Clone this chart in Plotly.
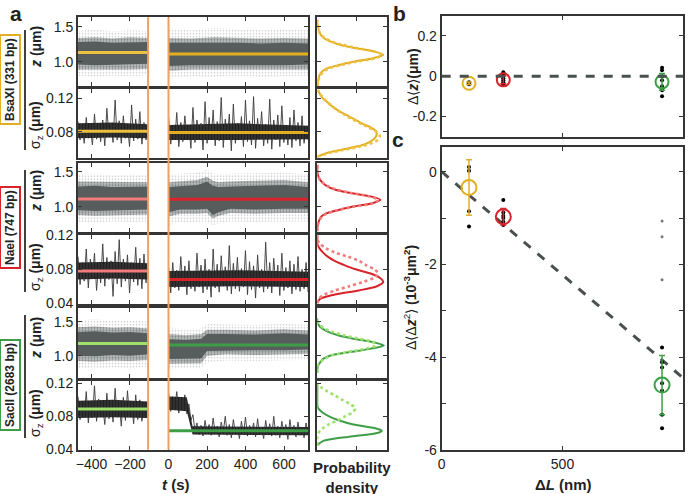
import numpy as np
import plotly.graph_objects as go

FONT = "Liberation Sans, Arial, sans-serif"
W, H = 694, 494

# ---------------- panel a : time traces ----------------
T_RANGE = [-470, 726]
T_TICKS = [-400, -200, 0, 200, 400, 600]
T_BEFORE = [-470, -106]
T_AFTER = [1, 725]
GAP_LINES = [-106, 0]

ENZ_LABELS = ["BsaXI (331 bp)", "NaeI (747 bp)", "SacII (2683 bp)"]
COL_AFTER = ["#E3AF22", "#D8232A", "#3E9E48"]
COL_BEFORE = ["#EDC040", "#F27B7B", "#9DE06A"]

# z clouds (um): envelopes [outer, mid, core]
Z1B_T = [-470, -380, -290, -200, -106]
Z1B_LO = [[0.80, 0.78, 0.80, 0.79, 0.81], [0.89, 0.88, 0.89, 0.89, 0.90], [0.96, 0.95, 0.96, 0.96, 0.97]]
Z1B_HI = [[1.44, 1.46, 1.43, 1.45, 1.44], [1.34, 1.35, 1.33, 1.35, 1.34], [1.28, 1.29, 1.27, 1.28, 1.28]]
Z1A_T = [1, 120, 240, 360, 480, 600, 725]
Z1A_LO = [[0.76, 0.79, 0.78, 0.80, 0.78, 0.79, 0.80], [0.87, 0.89, 0.88, 0.89, 0.88, 0.89, 0.89], [0.94, 0.95, 0.95, 0.96, 0.95, 0.95, 0.96]]
Z1A_HI = [[1.47, 1.45, 1.48, 1.46, 1.45, 1.47, 1.45], [1.34, 1.33, 1.35, 1.34, 1.33, 1.34, 1.33], [1.27, 1.27, 1.28, 1.27, 1.26, 1.27, 1.26]]

Z3B_T = [-470, -380, -290, -200, -106]
Z3B_LO = [[0.78, 0.77, 0.79, 0.78, 0.79], [0.88, 0.87, 0.88, 0.88, 0.89], [0.95, 0.94, 0.95, 0.95, 0.96]]
Z3B_HI = [[1.46, 1.47, 1.45, 1.46, 1.45], [1.36, 1.36, 1.35, 1.36, 1.35], [1.29, 1.30, 1.28, 1.29, 1.29]]
Z3A_T = [1, 60, 150, 200, 230, 260, 320, 450, 600, 725]
Z3A_LO = [[0.74, 0.78, 0.78, 0.79, 0.73, 0.76, 0.79, 0.78, 0.79, 0.79],
          [0.86, 0.90, 0.90, 0.91, 0.83, 0.87, 0.91, 0.90, 0.91, 0.91],
          [0.92, 0.96, 0.96, 0.97, 0.88, 0.92, 0.97, 0.96, 0.97, 0.97]]
Z3A_HI = [[1.46, 1.47, 1.49, 1.53, 1.48, 1.46, 1.47, 1.48, 1.49, 1.46],
          [1.35, 1.36, 1.38, 1.43, 1.37, 1.35, 1.36, 1.37, 1.38, 1.35],
          [1.28, 1.29, 1.31, 1.36, 1.30, 1.28, 1.29, 1.30, 1.31, 1.28]]

Z5B_T = [-470, -380, -290, -200, -106]
Z5B_LO = [[0.82, 0.80, 0.83, 0.81, 0.84], [0.92, 0.91, 0.93, 0.92, 0.94], [1.00, 0.99, 1.01, 1.00, 1.02]]
Z5B_HI = [[1.52, 1.54, 1.51, 1.53, 1.50], [1.42, 1.43, 1.41, 1.42, 1.40], [1.35, 1.36, 1.34, 1.35, 1.33]]
Z5A_T = [1, 90, 170, 200, 300, 450, 600, 725]
Z5A_LO = [[0.80, 0.82, 0.82, 0.90, 0.93, 0.92, 0.93, 0.94],
          [0.88, 0.89, 0.89, 1.00, 1.02, 1.01, 1.02, 1.03],
          [0.95, 0.96, 0.96, 1.07, 1.08, 1.08, 1.08, 1.09]]
Z5A_HI = [[1.42, 1.38, 1.40, 1.47, 1.46, 1.45, 1.47, 1.45],
          [1.32, 1.30, 1.32, 1.38, 1.38, 1.37, 1.39, 1.37],
          [1.24, 1.23, 1.25, 1.32, 1.32, 1.31, 1.33, 1.31]]

# sigma_z traces (nm): spikes and dense core envelope
S2B = [92, 70, 88, 66, 97, 72, 85, 64, 101, 71, 90, 68, 94, 63, 108, 74, 89, 67, 118, 70, 93, 66, 99, 72, 87, 62,
       112, 69, 95, 71, 104, 65, 91, 70, 86]
S2A = [96, 65, 88, 70, 103, 62, 91, 68, 99, 73, 86, 60, 109, 67, 94, 71, 90, 58, 116, 66, 97, 70, 106, 63, 92, 69,
       121, 61, 95, 72, 101, 57, 113, 66, 90, 70, 98, 62, 118, 68, 93, 64, 122, 60, 96, 71, 104, 63, 89, 66, 119, 59,
       94, 70, 100, 62, 111, 67, 88, 64, 97, 61, 106, 69, 91, 63, 99, 66, 87, 70]
S4B = [95, 62, 88, 66, 104, 58, 92, 70, 99, 55, 86, 64, 110, 60, 94, 68, 90, 48, 101, 63, 115, 59, 92, 66, 97, 52,
       88, 65, 106, 61, 93, 57, 98, 64, 90]
S4A = [82, 52, 88, 58, 79, 55, 95, 60, 84, 50, 90, 57, 77, 54, 99, 59, 85, 52, 92, 56, 80, 47, 104, 58, 86, 53, 96,
       60, 83, 55, 108, 51, 87, 57, 94, 54, 81, 59, 102, 50, 89, 56, 84, 46, 97, 58, 80, 53, 112, 57, 88, 52, 93, 60,
       85, 49, 99, 55, 82, 58, 90, 51, 86, 56, 95, 54, 80, 57, 88, 53]
S6B = [104, 76, 98, 80, 110, 72, 95, 78, 117, 74, 101, 82, 92, 70, 108, 77, 99, 73, 114, 79, 96, 68, 103, 75, 111,
       80, 94, 71, 106, 76, 100, 74, 97, 78, 93]
S6A = [108, 86, 104, 90, 110, 84, 101, 88, 106, 83, 95, 75, 82, 63, 72, 58, 69, 56, 75, 60, 70, 57, 78, 59, 68, 55,
       73, 61, 80, 57, 70, 54, 76, 60, 67, 53, 74, 58, 79, 56, 69, 60, 72, 55, 77, 58, 66, 53, 75, 59, 71, 56, 80, 57,
       68, 54, 74, 60, 70, 52, 76, 58, 69, 55, 73, 57, 67, 54, 72, 58]
SC2B_T, SC2B_LO, SC2B_HI = [-470, -290, -106], [72, 73, 72], [90, 91, 89]
SC2A_T, SC2A_LO, SC2A_HI = [1, 360, 725], [70, 70, 71], [88, 90, 87]
SC4B_T, SC4B_LO, SC4B_HI = [-470, -290, -106], [68, 69, 68], [88, 89, 87]
SC4A_T, SC4A_LO, SC4A_HI = [1, 360, 725], [59, 60, 59], [78, 79, 77]
SC6B_T, SC6B_LO, SC6B_HI = [-470, -290, -106], [78, 79, 78], [99, 100, 98]
SC6A_T, SC6A_LO, SC6A_HI = [1, 95, 125, 725], [88, 86, 58, 57], [104, 103, 68, 67]

Z_MEAN_B = [1.13, 1.11, 1.18]
Z_MEAN_A = [1.11, 1.108, 1.157]
S_MEAN_B = [0.0805, 0.078, 0.089]
S_MEAN_A = [0.079, 0.0678, 0.0624]

# ---------------- probability density panels ----------------
ZG1 = [0.65, 0.7, 0.75, 0.8, 0.85, 0.9, 0.95, 1.0, 1.05, 1.1, 1.15, 1.2, 1.25, 1.3, 1.35, 1.4, 1.45, 1.5, 1.55, 1.6]
P1_A = [0, 0.005, 0.015, 0.03, 0.06, 0.13, 0.3, 0.52, 0.8, 0.95, 0.8, 0.52, 0.3, 0.16, 0.08, 0.04, 0.02, 0.01, 0, 0]
P1_B = [0, 0.01, 0.02, 0.04, 0.08, 0.16, 0.33, 0.56, 0.84, 0.93, 0.8, 0.55, 0.33, 0.18, 0.09, 0.04, 0.02, 0.01, 0, 0]
P3_A = [0, 0, 0.01, 0.025, 0.05, 0.12, 0.29, 0.5, 0.79, 0.91, 0.76, 0.46, 0.24, 0.13, 0.07, 0.03, 0.01, 0, 0, 0]
P3_B = [0, 0, 0.01, 0.03, 0.06, 0.13, 0.3, 0.52, 0.8, 0.88, 0.74, 0.47, 0.26, 0.14, 0.07, 0.03, 0.01, 0, 0, 0]
ZG5 = [0.75, 0.8, 0.85, 0.9, 0.95, 1.0, 1.05, 1.1, 1.15, 1.2, 1.25, 1.3, 1.35, 1.4, 1.45, 1.5, 1.55]
P5_A = [0, 0, 0.01, 0.04, 0.08, 0.18, 0.45, 0.76, 0.96, 0.8, 0.52, 0.3, 0.16, 0.07, 0.02, 0, 0]
P5_B = [0, 0, 0.01, 0.04, 0.1, 0.2, 0.42, 0.68, 0.84, 0.8, 0.6, 0.38, 0.22, 0.1, 0.04, 0.01, 0]

SG2 = [0.05, 0.055, 0.06, 0.065, 0.07, 0.075, 0.08, 0.085, 0.09, 0.095, 0.1, 0.105, 0.11, 0.115, 0.12, 0.125, 0.13]
P2_A = [0, 0.16, 0.45, 0.69, 0.8, 0.85, 0.85, 0.77, 0.64, 0.53, 0.42, 0.31, 0.22, 0.15, 0.08, 0.04, 0.01]
P2_B = [0, 0.2, 0.5, 0.75, 0.87, 0.9, 0.85, 0.74, 0.62, 0.5, 0.4, 0.3, 0.22, 0.15, 0.09, 0.04, 0.01]
SG4 = [0.04, 0.045, 0.05, 0.055, 0.06, 0.065, 0.07, 0.075, 0.08, 0.085, 0.09, 0.095, 0.1, 0.105, 0.11, 0.115, 0.12]
P4_A = [0, 0.04, 0.24, 0.6, 0.86, 0.95, 0.9, 0.77, 0.55, 0.39, 0.25, 0.15, 0.08, 0.03, 0, 0, 0]
P4_B = [0, 0.02, 0.1, 0.26, 0.46, 0.66, 0.82, 0.88, 0.82, 0.7, 0.6, 0.44, 0.25, 0.12, 0.04, 0, 0]
SG6 = [0.045, 0.05, 0.0525, 0.055, 0.0575, 0.06, 0.0625, 0.065, 0.07, 0.075, 0.08, 0.085, 0.09, 0.095, 0.1, 0.105,
       0.11, 0.115, 0.12]
P6_A = [0, 0.08, 0.21, 0.44, 0.7, 0.88, 0.93, 0.86, 0.52, 0.32, 0.17, 0.07, 0.01, 0, 0, 0, 0, 0, 0]
P6_B = [0, 0, 0, 0, 0.01, 0.02, 0.04, 0.07, 0.16, 0.29, 0.4, 0.51, 0.55, 0.47, 0.36, 0.26, 0.15, 0.06, 0]

# ---------------- panels b, c ----------------
DL = [113, 255, 912]
B_MEAN = [-0.035, -0.018, -0.028]
B_ERR = [0.006, 0.02, 0.042]
B_DOTS = [[-0.035, -0.03, -0.04],
          [0.02, 0.01, 0.0, -0.01, -0.02, -0.03, -0.04],
          [0.042, 0.03, 0.0, -0.02, -0.05, -0.07, -0.1]]
C_MEAN = [-0.34, -0.97, -4.6]
C_ERR = [0.6, 0.18, 0.64]
C_DOTS = [[0.1, 0.02, -0.85, -1.18],
          [-0.61, -0.88, -0.95, -1.0, -1.08, -1.15],
          [-3.79, -4.11, -4.22, -4.56, -4.72, -5.24, -5.53]]
C_GRAY_DOTS = [-1.06, -1.4, -2.33]
FIT_SLOPE = -4.45e-3
DL_RANGE = [0, 1000]

# ======================================================================
ROWS_PX = [(17.3, 86.3), (89.3, 158.3), (162.7, 231.7), (235, 304), (308.3, 377.7), (380.7, 449.7)]
Y_RANGES = [[0.649, 1.634], [0.048, 0.1308], [0.643, 1.629], [0.039, 0.1205], [0.676, 1.697], [0.0395, 0.1232]]


def px_x(a, b):
    return [a / W, b / W]


def px_y(top, bot):
    return [1 - bot / H, 1 - top / H]


AX = dict(showline=True, linecolor="#353535", linewidth=2, mirror="ticks", ticks="inside", ticklen=4,
          tickwidth=1, tickcolor="#353535", showgrid=False, zeroline=False, automargin=False,
          tickfont=dict(family=FONT, size=14, color="#222"))

fig = go.Figure()
layout = dict(width=W, height=H, margin=dict(l=0, r=0, t=0, b=0, autoexpand=False), paper_bgcolor="white",
              plot_bgcolor="white", showlegend=False, font=dict(family=FONT, size=14, color="#222"))

for i in range(6):
    top, bot = ROWS_PX[i]
    is_z = i % 2 == 0
    if is_z:
        tv, tt = [1.0, 1.5], ["1.0", "1.5"]
    else:
        tv, tt = [0.04, 0.08, 0.12], ["0.04", "0.08", "0.12"]
    layout[f"xaxis{i+1}"] = dict(domain=px_x(78, 308.3), anchor=f"y{i+1}", range=T_RANGE, tickvals=T_TICKS,
                                 showticklabels=(i == 5), **AX)
    layout[f"yaxis{i+1}"] = dict(domain=px_y(top, bot), anchor=f"x{i+1}", range=Y_RANGES[i], tickvals=tv,
                                 ticktext=tt, **AX)
    layout[f"xaxis{i+7}"] = dict(domain=px_x(317.3, 386.7), anchor=f"y{i+7}", range=[0, 1.0], tickvals=[0.57],
                                 showticklabels=False, **AX)
    layout[f"yaxis{i+7}"] = dict(domain=px_y(top, bot), anchor=f"x{i+7}", range=Y_RANGES[i], tickvals=tv,
                                 showticklabels=False, **AX)

layout["xaxis13"] = dict(domain=px_x(441.7, 683.3), anchor="y13", range=DL_RANGE, tickvals=[500],
                         showticklabels=False, **AX)
layout["yaxis13"] = dict(domain=px_y(15.7, 136.7), anchor="x13", range=[-0.3, 0.3], tickvals=[-0.2, 0, 0.2],
                         ticktext=["-0.2", "0", "0.2"], **AX)
layout["xaxis14"] = dict(domain=px_x(441.7, 683.3), anchor="y14", range=DL_RANGE, tickvals=[0, 500, 1000],
                         ticktext=["0", "500", "1000"], **AX)
layout["yaxis14"] = dict(domain=px_y(146.7, 450), anchor="x14", range=[-6, 0.54],
                         tickvals=[-6, -4, -2, 0], ticktext=["-6", "-4", "-2", "0"],
                         minor=dict(tickvals=[-5, -3, -1], ticks="inside", ticklen=4, tickcolor="#353535"), **AX)

BAND_STYLE = [dict(fg="#8c8c8c", bg="white", size=3, sol=0.22),
              dict(fg="#404545", bg="#c2c5c5", size=3, sol=0.45),
              dict(fg="#2a2f2f", bg="#666b6b", size=2, sol=0.6)]


def add_band(t, lo, hi, ax, color, pattern):
    fig.add_trace(go.Scatter(x=list(t) + list(t)[::-1], y=list(hi) + list(lo)[::-1], fill="toself",
                             fillcolor=color, fillpattern=pattern,
                             line=dict(width=0), mode="lines", hoverinfo="skip",
                             xaxis=f"x{ax}", yaxis=f"y{ax}"))


def add_mean(seg, val, color, ax):
    fig.add_trace(go.Scatter(x=seg, y=[val, val], mode="lines", line=dict(color=color, width=3),
                             xaxis=f"x{ax}", yaxis=f"y{ax}"))


z_sets = [(Z1B_T, Z1B_LO, Z1B_HI, Z1A_T, Z1A_LO, Z1A_HI),
          (Z3B_T, Z3B_LO, Z3B_HI, Z3A_T, Z3A_LO, Z3A_HI),
          (Z5B_T, Z5B_LO, Z5B_HI, Z5A_T, Z5A_LO, Z5A_HI)]
s_sets = [(S2B, S2A), (S4B, S4A), (S6B, S6A)]
sc_sets = [(SC2B_T, SC2B_LO, SC2B_HI, SC2A_T, SC2A_LO, SC2A_HI),
           (SC4B_T, SC4B_LO, SC4B_HI, SC4A_T, SC4A_LO, SC4A_HI),
           (SC6B_T, SC6B_LO, SC6B_HI, SC6A_T, SC6A_LO, SC6A_HI)]
p_sets = [(ZG1, P1_A, P1_B, SG2, P2_A, P2_B), (ZG1, P3_A, P3_B, SG4, P4_A, P4_B),
          (ZG5, P5_A, P5_B, SG6, P6_A, P6_B)]

CORE_PATTERN = dict(shape="|", fgcolor="#050505", bgcolor="#3c3c3c", size=3, solidity=0.6)

for k in range(3):
    axz = 2 * k + 1
    axs = 2 * k + 2
    tb, lob, hib, ta, loa, hia = z_sets[k]
    for j in range(3):
        st = BAND_STYLE[j]
        pat = dict(shape=".", fgcolor=st["fg"], bgcolor=st["bg"], size=st["size"], solidity=st["sol"])
        add_band(tb, lob[j], hib[j], axz, st["bg"], pat)
        add_band(ta, loa[j], hia[j], axz, st["bg"], pat)
    add_mean(T_BEFORE, Z_MEAN_B[k], COL_BEFORE[k], axz)
    add_mean(T_AFTER, Z_MEAN_A[k], COL_AFTER[k], axz)

    sb, sa = s_sets[k]
    cbt, cbl, cbh, cat, cal, cah = sc_sets[k]
    fig.add_trace(go.Scatter(x=np.linspace(T_BEFORE[0], T_BEFORE[1], len(sb)), y=np.array(sb) / 1000.0,
                             mode="lines", line=dict(color="#3a3a3a", width=0.9), xaxis=f"x{axs}", yaxis=f"y{axs}"))
    fig.add_trace(go.Scatter(x=np.linspace(T_AFTER[0], T_AFTER[1], len(sa)), y=np.array(sa) / 1000.0,
                             mode="lines", line=dict(color="#3a3a3a", width=0.9), xaxis=f"x{axs}", yaxis=f"y{axs}"))
    add_band(cbt, np.array(cbl) / 1000.0, np.array(cbh) / 1000.0, axs, "#3c3c3c", CORE_PATTERN)
    add_band(cat, np.array(cal) / 1000.0, np.array(cah) / 1000.0, axs, "#3c3c3c", CORE_PATTERN)
    add_mean(T_BEFORE, S_MEAN_B[k], COL_BEFORE[k], axs)
    add_mean(T_AFTER, S_MEAN_A[k], COL_AFTER[k], axs)

    zg, pa, pb, sg, qa, qb = p_sets[k]
    for (grid, dens, col, dash, wd, ax) in [(zg, pa, COL_AFTER[k], "solid", 2, axz + 6),
                                            (zg, pb, COL_BEFORE[k], "dot", 2.6, axz + 6),
                                            (sg, qa, COL_AFTER[k], "solid", 2, axs + 6),
                                            (sg, qb, COL_BEFORE[k], "dot", 2.6, axs + 6)]:
        fig.add_trace(go.Scatter(x=dens, y=grid, mode="lines",
                                 line=dict(color=col, width=wd, dash=dash, shape="spline", smoothing=0.8),
                                 xaxis=f"x{ax}", yaxis=f"y{ax}"))

# panel b
for g in range(3):
    fig.add_trace(go.Scatter(x=[DL[g]] * len(B_DOTS[g]), y=B_DOTS[g], mode="markers",
                             marker=dict(color="black", size=4), xaxis="x13", yaxis="y13"))
for g in range(3):
    fig.add_trace(go.Scatter(x=[DL[g]], y=[B_MEAN[g]], mode="markers",
                             marker=dict(symbol="circle-open", size=13, color=COL_AFTER[g], line=dict(width=2)),
                             error_y=dict(type="data", array=[B_ERR[g]], color=COL_AFTER[g], thickness=1.5, width=3),
                             xaxis="x13", yaxis="y13"))

# panel c
fit_x = np.array(DL_RANGE, dtype=float)
fig.add_trace(go.Scatter(x=fit_x, y=FIT_SLOPE * fit_x, mode="lines",
                         line=dict(color="#4a5050", width=3, dash="dash"), xaxis="x14", yaxis="y14"))
fig.add_trace(go.Scatter(x=[DL[2]] * len(C_GRAY_DOTS), y=C_GRAY_DOTS, mode="markers",
                         marker=dict(color="#777", size=3), xaxis="x14", yaxis="y14"))
for g in range(3):
    fig.add_trace(go.Scatter(x=[DL[g]] * len(C_DOTS[g]), y=C_DOTS[g], mode="markers",
                             marker=dict(color="black", size=4), xaxis="x14", yaxis="y14"))
for g in range(3):
    fig.add_trace(go.Scatter(x=[DL[g]], y=[C_MEAN[g]], mode="markers",
                             marker=dict(symbol="circle-open", size=15, color=COL_AFTER[g], line=dict(width=2)),
                             error_y=dict(type="data", array=[C_ERR[g]], color=COL_AFTER[g], thickness=1.5, width=3),
                             xaxis="x14", yaxis="y14"))

shapes = []
for tg in GAP_LINES:
    shapes.append(dict(type="line", xref="x6", yref="paper", x0=tg, x1=tg, y0=1 - 449.7 / H, y1=1 - 17.3 / H,
                       line=dict(color="#F0A060", width=2)))
shapes.append(dict(type="line", xref="x13 domain", yref="y13", x0=0, x1=1, y0=0, y1=0,
                   line=dict(color="#4a5050", width=3, dash="dash")))
for (a, b) in [(30, 150), (170, 292), (315, 438)]:
    shapes.append(dict(type="line", xref="paper", yref="paper", x0=25 / W, x1=25 / W, y0=1 - b / H, y1=1 - a / H,
                       line=dict(color="black", width=1.5)))
layout["shapes"] = shapes


def ann(x, y, text, size=14, angle=0, **kw):
    d = dict(x=x / W, y=1 - y / H, xref="paper", yref="paper", text=text, showarrow=False, textangle=angle,
             font=dict(family=FONT, size=size, color="#222"), xanchor="center", yanchor="middle")
    d.update(kw)
    return d


annotations = [
    ann(16, 0, "<b>a</b>", 21, yanchor="top"), ann(399, 0, "<b>b</b>", 21, yanchor="top"),
    ann(398, 126, "<b>c</b>", 21, yanchor="top"),
    ann(176, 484, "<b><i>t</i> (s)</b>", 15),
    ann(352, 477, "<b>Probability<br>density</b>", 15),
    ann(563, 484, "<b>Δ<i>L</i> (nm)</b>", 15),
    ann(413, 77, "Δ⟨<b><i>z</i></b>⟩<b>(μm)</b>", 14, -90),
    ann(410, 298, "Δ⟨Δ<b><i>z</i></b><sup>2</sup>⟩ <b>(10<sup>-3</sup>μm<sup>2</sup>)</b>", 14, -90),
]
z_title_y = [47, 125, 191, 267, 338, 413]
for i in range(6):
    txt = "<b><i>z</i> (μm)</b>" if i % 2 == 0 else "σ<sub>z</sub> <b>(μm)</b>"
    annotations.append(ann(36, z_title_y[i], txt, 14, -90))
box_y = [80, 228, 385]
for k in range(3):
    annotations.append(ann(10, box_y[k], f"<b>{ENZ_LABELS[k]}</b>", 12, -90, bordercolor=COL_AFTER[k],
                           borderwidth=2, borderpad=2, bgcolor="white"))
layout["annotations"] = annotations

fig.update_layout(**layout)
fig.write_html("out.html", config={"displayModeBar": False},
               post_script="document.body.style.margin='0px';document.body.style.padding='0px';")
